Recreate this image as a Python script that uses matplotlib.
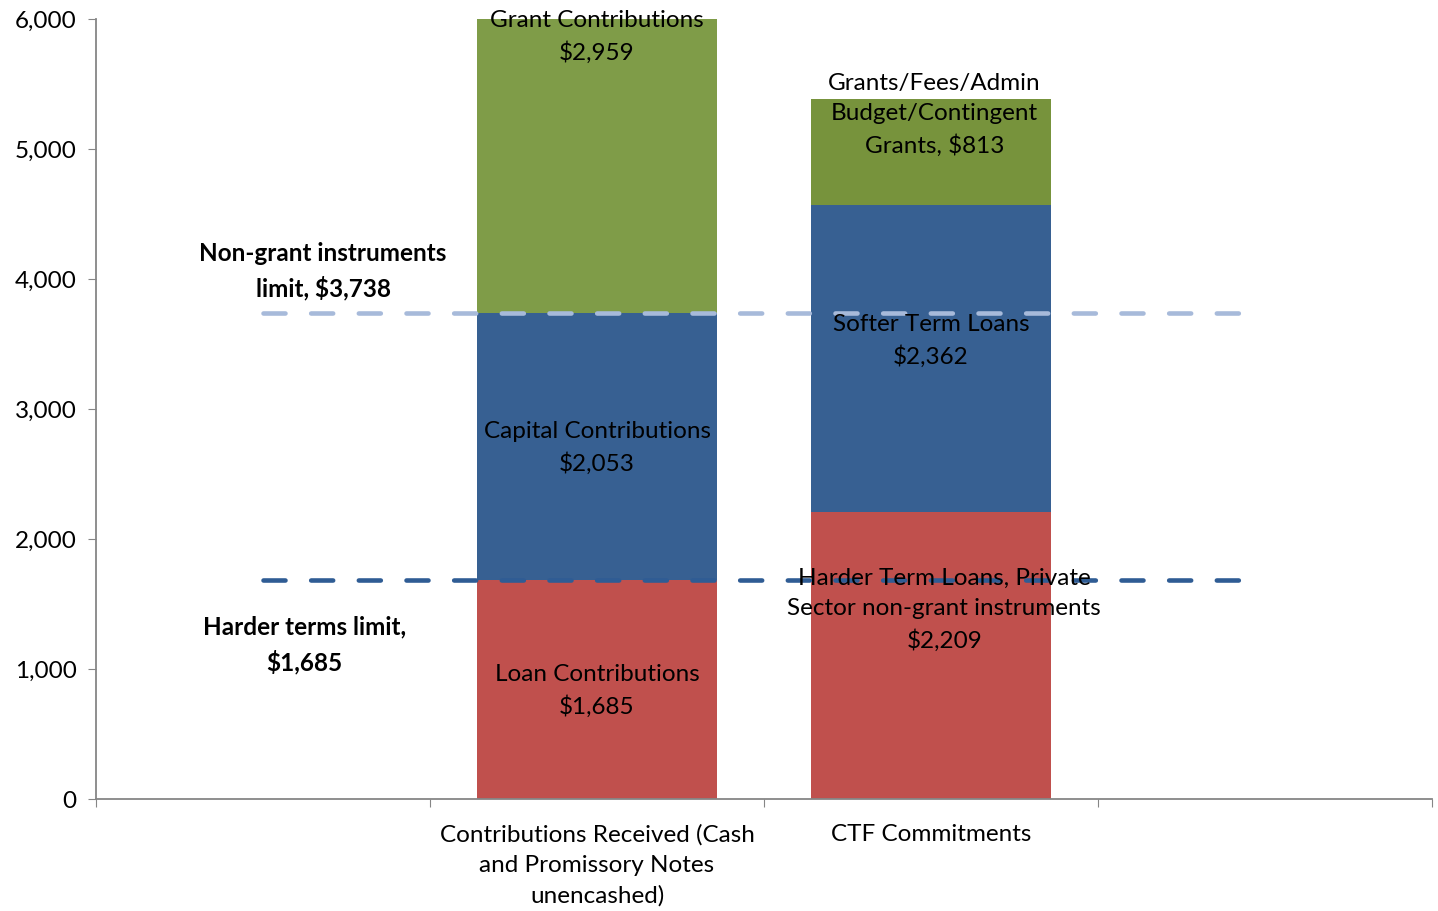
import matplotlib
matplotlib.use("Agg")
import matplotlib.pyplot as plt

plt.rcParams["font.family"] = ["Lato", "DejaVu Sans"]

# categories (first and last slots are empty in the original chart)
categories = ["", "Contributions Received (Cash\nand Promissory Notes\nunencashed)",
              "CTF Commitments", ""]
bottom_vals = [0, 1685, 2209, 0]   # loans / harder terms
middle_vals = [0, 2053, 2362, 0]   # capital / softer terms
top_vals = [0, 2959, 813, 0]       # grants

bottom_labels = ["", "Loan Contributions\n$1,685",
                 "Harder Term Loans, Private\nSector non-grant instruments\n$2,209", ""]
middle_labels = ["", "Capital Contributions\n$2,053", "Softer Term Loans\n$2,362", ""]
top_labels = ["", "Grant Contributions\n$2,959",
              "Grants/Fees/Admin\nBudget/Contingent\nGrants, $813", ""]

nongrant_limit = 3738
harder_limit = 1685

RED = "#C0504D"
BLUE = "#376092"
GREEN = "#7F9C48"

fig = plt.figure(figsize=(14.38, 9.11), dpi=100)
ax = fig.add_axes([0.0668, 0.1229, 0.929, 0.8562])

x = list(range(len(categories)))
mid_bottom = bottom_vals
top_bottom = [a + b for a, b in zip(bottom_vals, middle_vals)]
ax.bar(x, bottom_vals, width=0.72, color=RED, zorder=2)
ax.bar(x, middle_vals, width=0.72, bottom=mid_bottom, color=BLUE, zorder=2)
ax.bar(x, top_vals, width=0.72, bottom=top_bottom, color=[GREEN, GREEN, "#77933C", GREEN], zorder=2)

# limit lines
ax.plot([0, 2.975], [nongrant_limit] * 2, color="#A7BADA", lw=3.3, dashes=(4.8, 5.6),
        dash_capstyle="round", zorder=3)
ax.plot([0, 2.975], [harder_limit] * 2, color="#2F5C94", lw=3.3, dashes=(4.8, 5.6),
        dash_capstyle="round", zorder=3)

fs = 17.5
ls = 1.55
# segment labels
ax.text(1, 5862, top_labels[1], ha="center", va="center", fontsize=fs, linespacing=ls, zorder=4)
ax.text(1, 2700, middle_labels[1], ha="center", va="center", fontsize=fs, linespacing=ls, zorder=4)
ax.text(1, 830, bottom_labels[1], ha="center", va="center", fontsize=fs, linespacing=ls, zorder=4)
ax.text(2.01, 5262, top_labels[2], ha="center", va="center", fontsize=fs, linespacing=ls, zorder=4)
ax.text(2.0, 3523, middle_labels[2], ha="center", va="center", fontsize=fs, linespacing=ls, zorder=4)
ax.text(2.04, 1454, bottom_labels[2], ha="center", va="center", fontsize=fs, linespacing=ls, zorder=4)

ax.text(0.18, 4062, "Non-grant instruments\nlimit, $3,738", ha="center", va="center",
        fontsize=fs, fontweight="bold", linespacing=ls, zorder=4)
ax.text(0.123, 1185, "Harder terms limit,\n$1,685", ha="center", va="center",
        fontsize=fs, fontweight="bold", linespacing=ls, zorder=4)

ax.set_xlim(-0.5, 3.5)
ax.set_ylim(0, 6000)
ax.set_yticks(range(0, 6001, 1000))
ax.set_yticklabels([f"{v:,}" for v in range(0, 6001, 1000)], fontsize=fs)

ax.set_xticks([-0.5, 0.5, 1.5, 2.5, 3.5])
ax.set_xticklabels([])
# category labels below the axis
for xi, name in zip(x, categories):
    if name:
        ax.annotate(name, xy=(xi, 0), xycoords=("data", "axes fraction"),
                    xytext=(0, -18), textcoords="offset points",
                    ha="center", va="top", fontsize=fs, linespacing=ls)
ax.tick_params(axis="x", which="major", length=6, color="#868686", direction="out")
ax.tick_params(axis="y", length=6, color="#868686", direction="out", pad=8)

for side in ("top", "right"):
    ax.spines[side].set_visible(False)
for side in ("left", "bottom"):
    ax.spines[side].set_color("#868686")
    ax.spines[side].set_linewidth(1.3)

fig.savefig("out.png", dpi=100)
